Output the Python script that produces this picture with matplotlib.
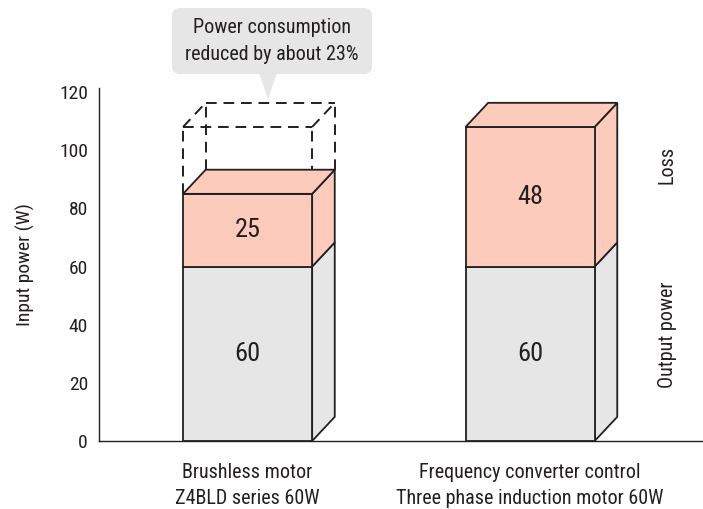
import matplotlib
matplotlib.use("Agg")
import matplotlib.pyplot as plt
from matplotlib.patches import Polygon, FancyBboxPatch
from matplotlib.transforms import Affine2D

plt.rcParams['font.family'] = ['Roboto Condensed', 'DejaVu Sans']

categories = ["Brushless motor\nZ4BLD series 60W",
              "Frequency converter control\nThree phase induction motor 60W"]
output_power = [60, 60]
loss = [25, 48]
reference_total = 108  # dashed outline level for comparison
series_names = ["Output power", "Loss"]
callout_text = "Power consumption\nreduced by about 23%"
yticks = [0, 20, 40, 60, 80, 100, 120]

GRAY = "#e6e6e6"
PINK = "#fccbbb"
EDGE = "#231f20"

W, H = 703, 509
fig = plt.figure(figsize=(W / 100, H / 100), dpi=100)
ax = fig.add_axes([99 / W, (509 - 441) / H, 604 / W, 353 / H])
ax.set_xlim(-0.526, 1.612)
ax.set_ylim(0, 121.4)

bw = 0.457
dx = 0.080
dy = 8.3
lw = 1.3

def face_front(x0, y0, y1, c):
    ax.add_patch(Polygon([(x0, y0), (x0 + bw, y0), (x0 + bw, y1), (x0, y1)],
                         closed=True, fc=c, ec=EDGE, lw=lw, zorder=3))

def face_side(x0, y0, y1, c):
    x1 = x0 + bw
    ax.add_patch(Polygon([(x1, y0), (x1 + dx, y0 + dy), (x1 + dx, y1 + dy), (x1, y1)],
                         closed=True, fc=c, ec=EDGE, lw=lw, zorder=3, joinstyle='miter'))

def face_top(x0, y, c):
    x1 = x0 + bw
    ax.add_patch(Polygon([(x0, y), (x0 + dx, y + dy), (x1 + dx, y + dy), (x1, y)],
                         closed=True, fc=c, ec=EDGE, lw=lw, zorder=3, joinstyle='miter'))

for i, (o, l) in enumerate(zip(output_power, loss)):
    x0 = i - bw / 2
    face_side(x0, 0, o, GRAY)
    face_side(x0, o, o + l, PINK)
    face_front(x0, 0, o, GRAY)
    face_front(x0, o, o + l, PINK)
    face_top(x0, o + l, PINK)
    ax.text(i, o / 2, str(o), ha='center', va='center', fontsize=19, color=EDGE, zorder=5)
    ax.text(i, o + l / 2, str(l), ha='center', va='center', fontsize=19, color=EDGE, zorder=5)

# dashed reference outline on first bar
x0 = 0 - bw / 2
x1 = x0 + bw
yb = output_power[0] + loss[0]
yt = reference_total
dash = dict(color=EDGE, lw=1.4, ls=(0, (5.5, 3.5)), zorder=2)
ax.plot([x0, x1], [yt, yt], **dash)
ax.plot([x0 + dx, x1 + dx], [yt + dy, yt + dy], **dash)
ax.plot([x0, x0 + dx], [yt, yt + dy], **dash)
ax.plot([x1, x1 + dx], [yt, yt + dy], **dash)
ax.plot([x0, x0], [yb, yt], **dash)
ax.plot([x1, x1], [yb, yt], **dash)
ax.plot([x0 + dx, x0 + dx], [yb + dy, yt + dy], **dash)
ax.plot([x1 + dx, x1 + dx], [yb + dy, yt + dy], **dash)

# axes styling
for s in ['top', 'right']:
    ax.spines[s].set_visible(False)
ax.spines['left'].set_color(EDGE)
ax.spines['bottom'].set_color(EDGE)
ax.spines['left'].set_linewidth(1.0)
ax.spines['bottom'].set_linewidth(1.0)
ax.set_yticks(yticks)
ax.set_yticklabels([str(t) for t in yticks], fontsize=14, color=EDGE)
ax.set_xticks(range(len(categories)))
ax.set_xticklabels(categories, fontsize=14.5, color=EDGE, linespacing=1.48)
ax.tick_params(axis='both', length=0)
ax.tick_params(axis='y', pad=8)
ax.tick_params(axis='x', pad=16)
ax.set_ylabel("Input power (W)", fontsize=14, color=EDGE, labelpad=17)

# right-side series labels
ax.text(1.485, 95, series_names[1], rotation=90,
        ha='center', va='center', fontsize=14.5, color=EDGE)
ax.text(1.485, 36.5, series_names[0], rotation=90,
        ha='center', va='center', fontsize=14.5, color=EDGE)

# callout in image-pixel coordinates
pix = Affine2D().scale(1 / W, -1 / H).translate(0, 1) + fig.transFigure
box = FancyBboxPatch((172, 8), 200, 66, boxstyle="round,pad=0,rounding_size=8",
                     fc=GRAY, ec='none', transform=pix, clip_on=False)
fig.patches.append(box)
tri = Polygon([(259, 73), (277, 73), (268, 99)], closed=True, fc=GRAY, ec='none',
              transform=pix, clip_on=False)
fig.patches.append(tri)
fig.text(272, 41, callout_text, transform=pix, ha='center', va='center',
         fontsize=14.5, color=EDGE, linespacing=1.5)

fig.savefig("out.png", dpi=100)
